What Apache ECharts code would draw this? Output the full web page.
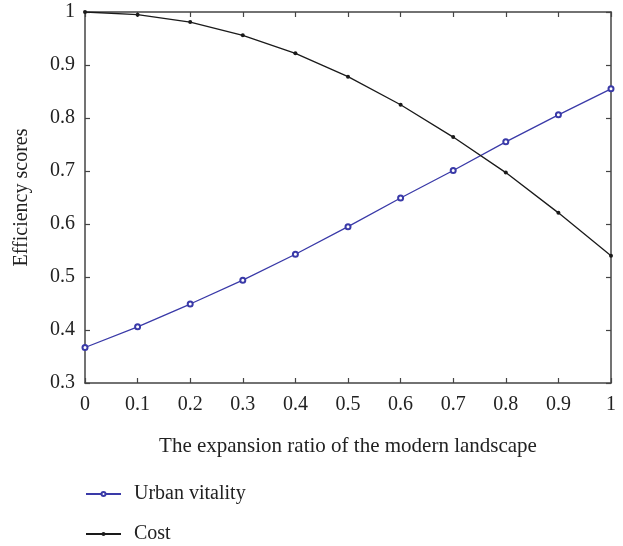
<!DOCTYPE html>
<html>
<head>
<meta charset="utf-8">
<script src="https://cdn.jsdelivr.net/npm/echarts@6/dist/echarts.min.js"></script>
<style>html,body{margin:0;padding:0;background:#fff;}#c{width:623px;height:546px;}</style>
</head>
<body>
<div id="c"></div>
<script>
const xValues = [0, 0.1, 0.2, 0.3, 0.4, 0.5, 0.6, 0.7, 0.8, 0.9, 1];
const urbanVitality = [0.367, 0.406, 0.449, 0.494, 0.543, 0.595, 0.649, 0.701, 0.755, 0.806, 0.855];
const cost = [1.0, 0.995, 0.981, 0.956, 0.922, 0.878, 0.825, 0.764, 0.697, 0.621, 0.540];
const seriesNames = ['Urban vitality', 'Cost'];
const xTitle = 'The expansion ratio of the modern landscape';
const yTitle = 'Efficiency scores';

const font = '"Liberation Serif", "DejaVu Serif", serif';
const axisCol = '#444';
const chart = echarts.init(document.getElementById('c'), null, {renderer: 'canvas'});
const pair = a => xValues.map((x, i) => [x, a[i]]);
const tickStyle = {show: true, inside: true, length: 5, lineStyle: {color: axisCol, width: 1.2}};
const lineAx = {show: true, onZero: false, lineStyle: {color: axisCol, width: 1.5}};
chart.setOption({
  animation: false,
  backgroundColor: '#fff',
  grid: {left: 85, right: 12, top: 12, bottom: 163, containLabel: false},
  xAxis: [{
    type: 'value', min: 0, max: 1, interval: 0.1,
    name: xTitle, nameLocation: 'middle', nameGap: 53,
    nameTextStyle: {fontFamily: font, fontSize: 21, color: '#222'},
    axisLine: lineAx, axisTick: tickStyle, splitLine: {show: false},
    axisLabel: {fontFamily: font, fontSize: 20, color: '#222', margin: 12}
  }, {
    type: 'value', min: 0, max: 1, interval: 0.1, position: 'top',
    axisLine: lineAx, axisTick: tickStyle, splitLine: {show: false},
    axisLabel: {show: false}
  }],
  yAxis: [{
    type: 'value', min: 0.3, max: 1, interval: 0.1,
    name: yTitle, nameLocation: 'middle', nameGap: 53,
    nameTextStyle: {fontFamily: font, fontSize: 20, color: '#222'},
    axisLine: lineAx, axisTick: tickStyle, splitLine: {show: false},
    axisLabel: {fontFamily: font, fontSize: 20, color: '#222', margin: 10}
  }, {
    type: 'value', min: 0.3, max: 1, interval: 0.1, position: 'right',
    axisLine: lineAx, axisTick: tickStyle, splitLine: {show: false},
    axisLabel: {show: false}
  }],
  legend: {
    orient: 'vertical', left: 85, top: 484, padding: 0, itemGap: 20, itemWidth: 35, itemHeight: 5,
    height: 62,
    textStyle: {fontFamily: font, fontSize: 20, color: '#222', padding: [0, 0, 0, 8]},
    data: seriesNames
  },
  series: [{
    name: seriesNames[0], type: 'line', data: pair(urbanVitality),
    symbol: 'emptyCircle', symbolSize: 5, color: '#3a3aa8',
    lineStyle: {color: '#3a3aa8', width: 1.3}, itemStyle: {color: '#3a3aa8', borderWidth: 1}
  }, {
    name: seriesNames[1], type: 'line', data: pair(cost),
    symbol: 'circle', symbolSize: 4, color: '#1a1a1a',
    lineStyle: {color: '#1a1a1a', width: 1.3}, itemStyle: {color: '#1a1a1a'}
  }]
});
</script>
</body>
</html>
